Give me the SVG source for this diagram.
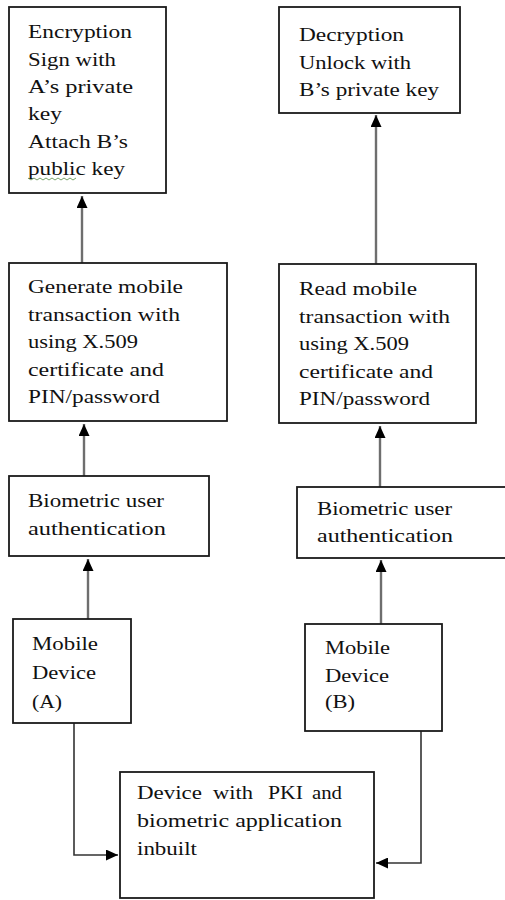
<svg xmlns="http://www.w3.org/2000/svg" width="505" height="900" viewBox="0 0 505 900">
<defs>
<marker id="ah" markerUnits="userSpaceOnUse" markerWidth="13" markerHeight="11" refX="12" refY="5.5" orient="auto">
<path d="M0,0 L12,5.5 L0,11 z" fill="#000"/>
</marker>
<style>
.box{fill:#fff;stroke:#1a1a1a;stroke-width:1.8}
.t{font-family:"Liberation Serif","Times New Roman",serif;font-size:19px;fill:#111}
.c{fill:none;stroke:#6e6e6e;stroke-width:2.4}
.c2{fill:none;stroke:#333;stroke-width:1.6}
</style>
</defs>
<rect width="505" height="900" fill="#fff"/>

<g id="connectors">
<line class="c" x1="82" y1="263" x2="82" y2="196" marker-end="url(#ah)"/>
<line class="c" x1="84" y1="476" x2="84" y2="424" marker-end="url(#ah)"/>
<line class="c" x1="88" y1="619" x2="88" y2="559" marker-end="url(#ah)"/>
<line class="c" x1="376" y1="264" x2="376" y2="115" marker-end="url(#ah)"/>
<line class="c" x1="380" y1="487" x2="380" y2="426" marker-end="url(#ah)"/>
<line class="c" x1="381" y1="624" x2="381" y2="560" marker-end="url(#ah)"/>
<polyline class="c2" points="74,723 74,855 118,855" marker-end="url(#ah)"/>
<polyline class="c2" points="421,731 421,863 376,863" marker-end="url(#ah)"/>
</g>

<g id="encryption">
<rect class="box" x="9" y="7" width="157" height="186"/>
<text class="t" x="28" y="38" textLength="104" lengthAdjust="spacingAndGlyphs">Encryption</text>
<text class="t" x="28" y="65.5" textLength="88" lengthAdjust="spacingAndGlyphs">Sign with</text>
<text class="t" x="28" y="93" textLength="105" lengthAdjust="spacingAndGlyphs">A’s private</text>
<text class="t" x="28" y="120" textLength="34" lengthAdjust="spacingAndGlyphs">key</text>
<text class="t" x="28" y="147.5" textLength="100" lengthAdjust="spacingAndGlyphs">Attach B’s</text>
<text class="t" x="28" y="175" textLength="97" lengthAdjust="spacingAndGlyphs">public key</text>
<path d="M28,178 l3,2 l3,-2 l3,2 l3,-2 l3,2 l3,-2 l3,2 l3,-2 l3,2 l3,-2 l3,2 l3,-2 l3,2 l3,-2 l3,2 l3,-2" fill="none" stroke="#6a9a5a" stroke-width="0.9"/>
</g>

<g id="decryption">
<rect class="box" x="279" y="7" width="181" height="106"/>
<text class="t" x="299" y="41" textLength="105" lengthAdjust="spacingAndGlyphs">Decryption</text>
<text class="t" x="299" y="68.5" textLength="112" lengthAdjust="spacingAndGlyphs">Unlock with</text>
<text class="t" x="299" y="96" textLength="140" lengthAdjust="spacingAndGlyphs">B’s private key</text>
</g>

<g id="generate">
<rect class="box" x="9" y="263" width="218" height="158"/>
<text class="t" x="28" y="293" textLength="155" lengthAdjust="spacingAndGlyphs">Generate mobile</text>
<text class="t" x="28" y="320.5" textLength="152" lengthAdjust="spacingAndGlyphs">transaction with</text>
<text class="t" x="28" y="348" textLength="110" lengthAdjust="spacingAndGlyphs">using X.509</text>
<text class="t" x="28" y="375.5" textLength="136" lengthAdjust="spacingAndGlyphs">certificate and</text>
<text class="t" x="28" y="403" textLength="132" lengthAdjust="spacingAndGlyphs">PIN/password</text>
</g>

<g id="read">
<rect class="box" x="279" y="264" width="197" height="159"/>
<text class="t" x="299" y="295" textLength="118" lengthAdjust="spacingAndGlyphs">Read mobile</text>
<text class="t" x="299" y="322.5" textLength="151" lengthAdjust="spacingAndGlyphs">transaction with</text>
<text class="t" x="299" y="350" textLength="110" lengthAdjust="spacingAndGlyphs">using X.509</text>
<text class="t" x="299" y="377.5" textLength="134" lengthAdjust="spacingAndGlyphs">certificate and</text>
<text class="t" x="299" y="405" textLength="131" lengthAdjust="spacingAndGlyphs">PIN/password</text>
</g>

<g id="bio-a">
<rect class="box" x="9" y="476" width="200" height="80"/>
<text class="t" x="28" y="507" textLength="136" lengthAdjust="spacingAndGlyphs">Biometric user</text>
<text class="t" x="28" y="535" textLength="138" lengthAdjust="spacingAndGlyphs">authentication</text>
</g>

<g id="bio-b">
<rect class="box" x="297" y="487" width="215" height="71"/>
<text class="t" x="317" y="515" textLength="135" lengthAdjust="spacingAndGlyphs">Biometric user</text>
<text class="t" x="317" y="542" textLength="136" lengthAdjust="spacingAndGlyphs">authentication</text>
</g>

<g id="mobile-a">
<rect class="box" x="13" y="619" width="118" height="104"/>
<text class="t" x="32" y="650" textLength="66" lengthAdjust="spacingAndGlyphs">Mobile</text>
<text class="t" x="32" y="679" textLength="64" lengthAdjust="spacingAndGlyphs">Device</text>
<text class="t" x="32" y="708" textLength="30" lengthAdjust="spacingAndGlyphs">(A)</text>
</g>

<g id="mobile-b">
<rect class="box" x="305" y="624" width="137" height="107"/>
<text class="t" x="325" y="654" textLength="65" lengthAdjust="spacingAndGlyphs">Mobile</text>
<text class="t" x="325" y="682" textLength="64" lengthAdjust="spacingAndGlyphs">Device</text>
<text class="t" x="325" y="708" textLength="30" lengthAdjust="spacingAndGlyphs">(B)</text>
</g>

<g id="device-pki">
<rect class="box" x="120" y="772" width="254" height="126"/>
<text class="t" y="799"><tspan x="137" textLength="65" lengthAdjust="spacingAndGlyphs">Device</tspan> <tspan x="213" textLength="40" lengthAdjust="spacingAndGlyphs">with</tspan> <tspan x="268" textLength="35" lengthAdjust="spacingAndGlyphs">PKI</tspan> <tspan x="312" textLength="30" lengthAdjust="spacingAndGlyphs">and</tspan></text>
<text class="t" x="137" y="827" textLength="205" lengthAdjust="spacingAndGlyphs">biometric application</text>
<text class="t" x="137" y="855" textLength="60" lengthAdjust="spacingAndGlyphs">inbuilt</text>
</g>
</svg>
